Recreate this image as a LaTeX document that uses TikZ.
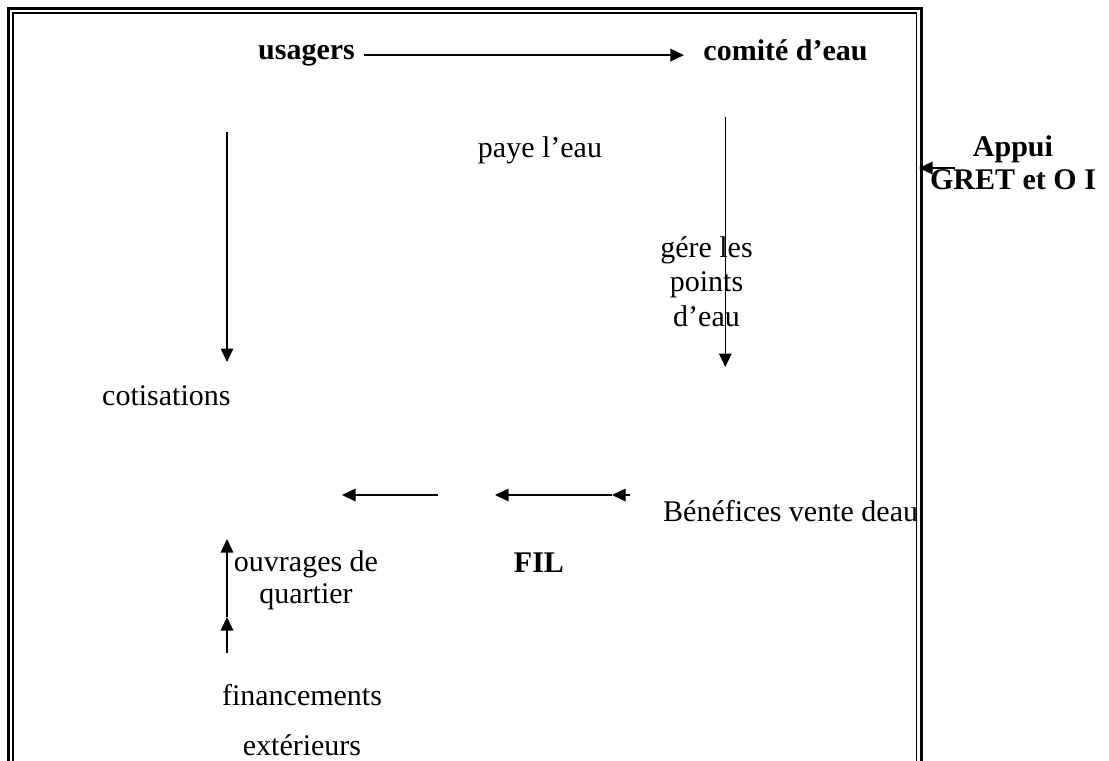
\documentclass[tikz,border=0pt]{standalone}
\usepackage{fontspec}
\setmainfont{Liberation Serif}
\usetikzlibrary{arrows.meta}

\begin{document}
\begin{tikzpicture}[x=0.4pt, y=-0.4pt,
    flow/.style={-{Triangle[length=5.4pt, width=5pt]}, line width=0.6pt},
    txt/.style={anchor=base, inner sep=0pt, align=center, font=\fontsize{12}{13.8}\selectfont},
    txtB/.style={txt, font=\fontsize{12}{13.8}\selectfont\bfseries}]

  \useasboundingbox (0,0) rectangle (1109,761);
  \draw[line width=1.2pt] (8.5,761) -- (8.5,8.5) -- (921,8.5) -- (921,761);
  \draw[line width=0.7pt] (13,761) -- (13,13) -- (916.5,13) -- (916.5,761);

  \node[txtB] (usagers) at (306.5,59.5) {usagers};
  \node[txtB] (comite) at (785.5,60) {comité d’eau};
  \node[txt] (paye) at (540,157) {paye l’eau};
  \node[txtB, font=\fontsize{12}{13}\selectfont\bfseries] (appui) at (1013,189.3) {Appui\\GRET et O I};
  \node[txt] (gere) at (706.5,326) {gére les\\points\\d’eau};
  \node[txt, anchor=base west] (cotis) at (101.7,405) {cotisations};
  \node[txt, anchor=base west] (benef) at (662.7,521.7) {Bénéfices vente deau};
  \node[txtB] (fil) at (539,572) {FIL};
  \node[txt, font=\fontsize{12}{12.8}\selectfont] (ouvr) at (306,603) {ouvrages de\\quartier};
  \node[txt] (finan) at (302,755) {financements\\[6.2pt]extérieurs};

  \coordinate (cotisTop) at (227,132);
  \coordinate (cotisEnd) at (227,362);
  \coordinate (gereTop) at (725.3,117);
  \coordinate (gereEnd) at (725.3,367);
  \coordinate (appuiA) at (955,168);
  \coordinate (appuiB) at (919,168);
  \coordinate (filA) at (438,495);
  \coordinate (filB) at (342,495);
  \coordinate (benA) at (630,495);
  \coordinate (benB) at (612,495);
  \coordinate (benC) at (495,495);
  \coordinate (finA) at (227,653);
  \coordinate (finB) at (227,617);
  \coordinate (finC) at (227,539);

  \draw[flow, shorten <=3.3pt, shorten >=7.6pt] (usagers.east) -- (usagers.east -| comite.west);
  \draw[flow] (cotisTop) -- (cotisEnd);
  \draw[flow] (gereTop) -- (gereEnd);
  \draw[flow] (appuiA) -- (appuiB);
  \draw[flow] (filA) -- (filB);
  \draw[flow] (benA) -- (benB);
  \draw[flow] (benB) -- (benC);
  \draw[flow] (finA) -- (finB);
  \draw[flow] (finB) -- (finC);
\end{tikzpicture}
\end{document}
